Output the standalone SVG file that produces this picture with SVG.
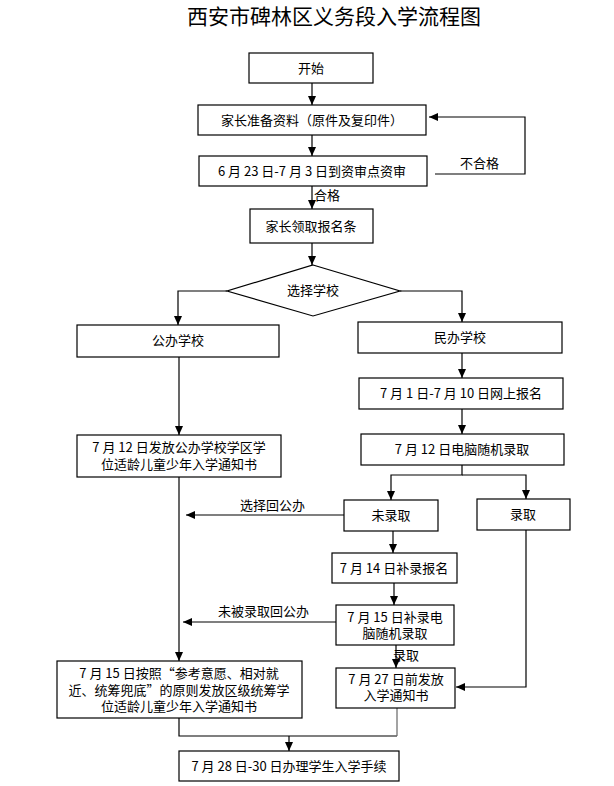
<svg xmlns="http://www.w3.org/2000/svg" width="614" height="786" viewBox="0 0 614 786">
<style>
  .box{fill:#fff;stroke:#000;stroke-width:1.2}
  .t{font-family:"Noto Sans CJK SC","Liberation Sans",sans-serif;font-size:13px;fill:#000;text-anchor:middle}
  .l{font-family:"Noto Sans CJK SC","Liberation Sans",sans-serif;font-size:13px;fill:#000}
  .title{font-family:"Noto Sans CJK SC","Liberation Sans",sans-serif;font-size:21px;fill:#000;text-anchor:middle;font-weight:400}
  .c{fill:none;stroke:#000;stroke-width:1.2}
</style>
<defs>
  <marker id="a" markerUnits="userSpaceOnUse" markerWidth="9" markerHeight="8" refX="9" refY="4" orient="auto">
    <path d="M0,0 L9,4 L0,8 z" fill="#000"/>
  </marker>
</defs>
<rect width="614" height="786" fill="#fff"/>
<text class="title" x="334" y="24">西安市碑林区义务段入学流程图</text>

<g id="connectors">
  <path class="c" d="M312,83 V105" marker-end="url(#a)"/>
  <path class="c" d="M312,135 V156" marker-end="url(#a)"/>
  <path class="c" d="M312,186 V209" marker-end="url(#a)"/>
  <path class="c" d="M435,174 H525 V117 H429" marker-end="url(#a)"/>
  <path class="c" d="M312,243 V265" marker-end="url(#a)"/>
  <path class="c" d="M227,291 H178 V325" marker-end="url(#a)"/>
  <path class="c" d="M400,291 H462 V322" marker-end="url(#a)"/>
  <path class="c" d="M462,353 V378" marker-end="url(#a)"/>
  <path class="c" d="M462,409 V434" marker-end="url(#a)"/>
  <path class="c" d="M462,465 V475 H391 V500" marker-end="url(#a)"/>
  <path class="c" d="M462,475 H526 V499" marker-end="url(#a)"/>
  <path class="c" d="M179,357 V435" marker-end="url(#a)"/>
  <path class="c" d="M179,477 V661" marker-end="url(#a)"/>
  <path class="c" d="M344,515 H186" marker-end="url(#a)"/>
  <path class="c" d="M393,531 V553" marker-end="url(#a)"/>
  <path class="c" d="M394,583 V605" marker-end="url(#a)"/>
  <path class="c" d="M336,622 H183" marker-end="url(#a)"/>
  <path class="c" d="M396,645 V668" marker-end="url(#a)"/>
  <path class="c" d="M526,530 V687 H456" marker-end="url(#a)"/>
  <path class="c" d="M179,718 V736 H397"/>
  <path class="c" d="M397,708 V736" style="stroke:#666"/>
  <path class="c" d="M289,736 V751" marker-end="url(#a)"/>
  <text class="l" x="460" y="168">不合格</text>
  <text class="l" x="314" y="200">合格</text>
  <text class="l" x="240" y="510">选择回公办</text>
  <text class="l" x="218" y="616">未被录取回公办</text>
  <text class="l" x="393" y="660">录取</text>
</g>

<g id="start"><rect class="box" x="249" y="53" width="124" height="30"/><text class="t" x="311" y="73">开始</text></g>
<g id="prepare"><rect class="box" x="198" y="105" width="228" height="30"/><text class="t" x="312" y="125">家长准备资料（原件及复印件）</text></g>
<g id="review"><rect class="box" x="199" y="156" width="228" height="30"/><text class="t" x="312" y="176">6 月 23 日-7 月 3 日到资审点资审</text></g>
<g id="receipt"><rect class="box" x="250" y="209" width="123" height="34"/><text class="t" x="311" y="231">家长领取报名条</text></g>
<g id="choose"><polygon class="box" points="313,265 400,291 313,316 227,291"/><text class="t" x="313" y="295">选择学校</text></g>
<g id="public"><rect class="box" x="77" y="325" width="202" height="32"/><text class="t" x="178" y="345">公办学校</text></g>
<g id="private"><rect class="box" x="358" y="322" width="204" height="31"/><text class="t" x="460" y="342">民办学校</text></g>
<g id="online"><rect class="box" x="359" y="378" width="204" height="31"/><text class="t" x="461" y="398">7 月 1 日-7 月 10 日网上报名</text></g>
<g id="lottery"><rect class="box" x="361" y="434" width="203" height="31"/><text class="t" x="462" y="454">7 月 12 日电脑随机录取</text></g>
<g id="pubnotice"><rect class="box" x="77" y="435" width="204" height="42"/><text class="t" x="179" y="452">7 月 12 日发放公办学校学区学</text><text class="t" x="179" y="469">位适龄儿童少年入学通知书</text></g>
<g id="notadmitted"><rect class="box" x="344" y="500" width="94" height="31"/><text class="t" x="391" y="520">未录取</text></g>
<g id="admitted"><rect class="box" x="477" y="499" width="93" height="31"/><text class="t" x="523" y="519">录取</text></g>
<g id="supplement"><rect class="box" x="332" y="553" width="125" height="30"/><text class="t" x="394" y="573">7 月 14 日补录报名</text></g>
<g id="supplottery"><rect class="box" x="336" y="605" width="118" height="40"/><text class="t" x="395" y="622">7 月 15 日补录电</text><text class="t" x="395" y="638">脑随机录取</text></g>
<g id="district"><rect class="box" x="57" y="661" width="245" height="57"/><text class="t" x="179" y="678">7 月 15 日按照“参考意愿、相对就</text><text class="t" x="179" y="695">近、统筹兜底”的原则发放区级统筹学</text><text class="t" x="179" y="711">位适龄儿童少年入学通知书</text></g>
<g id="privnotice"><rect class="box" x="336" y="668" width="119" height="40"/><text class="t" x="396" y="684">7 月 27 日前发放</text><text class="t" x="396" y="700">入学通知书</text></g>
<g id="enroll"><rect class="box" x="179" y="751" width="220" height="30"/><text class="t" x="289" y="771">7 月 28 日-30 日办理学生入学手续</text></g>
</svg>
